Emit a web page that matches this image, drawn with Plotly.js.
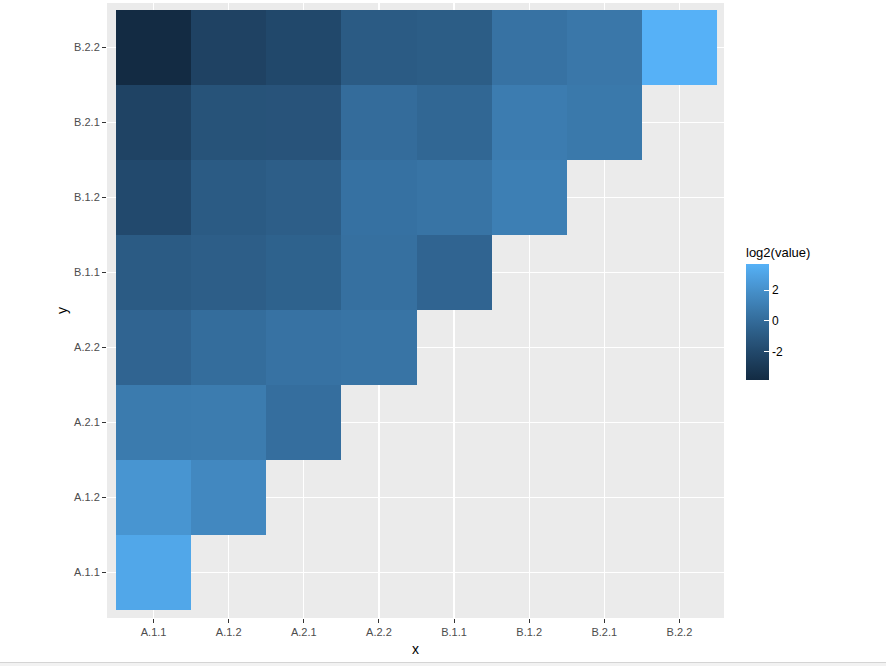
<!DOCTYPE html>
<html>
<head>
<meta charset="utf-8">
<script src="https://cdn.plot.ly/plotly-3.0.1.min.js"></script>
<style>html,body{margin:0;padding:0;background:#fff;}#chart{width:886px;height:666px;}</style>
</head>
<body>
<div id="chart"></div>
<script>
// Categories
var xLabels = ["A.1.1","A.1.2","A.2.1","A.2.2","B.1.1","B.1.2","B.2.1","B.2.2"];
var yLabels = ["A.1.1","A.1.2","A.2.1","A.2.2","B.1.1","B.1.2","B.2.1","B.2.2"];
// log2(value) per row (y), columns follow xLabels; null = no cell
var rowA11 = [3.19, null, null, null, null, null, null, null];
var rowA12 = [2.23, 1.56, null, null, null, null, null, null];
var rowA21 = [0.84, 0.88, 0.17, null, null, null, null, null];
var rowA22 = [-0.38, 0.09, 0.37, 0.49, null, null, null, null];
var rowB11 = [-0.91, -0.73, -0.52, 0.25, -0.38, null, null, null];
var rowB12 = [-1.93, -0.91, -0.73, 0.33, 0.49, 1.08, null, null];
var rowB21 = [-2.33, -1.40, -1.36, 0.05, -0.25, 0.92, 0.72, null];
var rowB22 = [-3.84, -2.38, -2.02, -0.91, -0.82, 0.37, 0.64, 3.70];
var colorbarTicks = [-2, 0, 2];
var colorbarTickText = ["-2", "0", "2"];

var z = [rowA11, rowA12, rowA21, rowA22, rowB11, rowB12, rowB21, rowB22];

// ggplot2 default gradient (#132B43 -> #56B1F7) interpolated in Lab
function hexToRgb(h){h=h.replace('#','');return [parseInt(h.substr(0,2),16),parseInt(h.substr(2,2),16),parseInt(h.substr(4,2),16)];}
function toLin(c){c/=255;return c<=0.04045?c/12.92:Math.pow((c+0.055)/1.055,2.4);}
function fromLin(c){var v=c<=0.0031308?12.92*c:1.055*Math.pow(c,1/2.4)-0.055;return Math.max(0,Math.min(255,Math.round(v*255)));}
var Xn=0.95047,Yn=1,Zn=1.08883;
function f(t){return t>0.008856?Math.cbrt(t):7.787*t+16/116;}
function fi(t){return t>0.206893?t*t*t:(t-16/116)/7.787;}
function rgb2lab(rgb){var r=toLin(rgb[0]),g=toLin(rgb[1]),b=toLin(rgb[2]);
 var X=r*0.4124+g*0.3576+b*0.1805,Y=r*0.2126+g*0.7152+b*0.0722,Z=r*0.0193+g*0.1192+b*0.9505;
 var fx=f(X/Xn),fy=f(Y/Yn),fz=f(Z/Zn);return [116*fy-16,500*(fx-fy),200*(fy-fz)];}
function lab2rgb(lab){var fy=(lab[0]+16)/116,fx=fy+lab[1]/500,fz=fy-lab[2]/200;
 var X=Xn*fi(fx),Y=Yn*fi(fy),Z=Zn*fi(fz);
 var r=X*3.2406+Y*-1.5372+Z*-0.4986,g=X*-0.9689+Y*1.8758+Z*0.0415,b=X*0.0557+Y*-0.2040+Z*1.0570;
 return 'rgb('+fromLin(r)+','+fromLin(g)+','+fromLin(b)+')';}
var lo=rgb2lab(hexToRgb('#132B43')),hi=rgb2lab(hexToRgb('#56B1F7'));
var cscale=[];
for(var i=0;i<=20;i++){var t=i/20;cscale.push([t,lab2rgb([lo[0]+(hi[0]-lo[0])*t,lo[1]+(hi[1]-lo[1])*t,lo[2]+(hi[2]-lo[2])*t])]);}

var plotTop=3, plotBottom=618, plotLeft=107, plotRight=724;
var pw=plotRight-plotLeft, ph=plotBottom-plotTop;

var trace = {
  type:'heatmap',
  x:xLabels, y:yLabels, z:z,
  colorscale:cscale,
  zmin:-3.84, zmax:3.70,
  xgap:0, ygap:0,
  hoverongaps:false,
  colorbar:{
    title:{text:'log2(value)', side:'top', font:{family:'Liberation Sans, Arial, sans-serif', size:13, color:'#000'}},
    thickness:23, thicknessmode:'pixels',
    len:136, lenmode:'pixels',
    x:(746-plotLeft)/pw, xanchor:'left', xpad:0,
    y:(plotBottom-380)/ph, yanchor:'bottom', ypad:0,
    outlinewidth:0,
    tickvals:colorbarTicks, ticktext:colorbarTickText,
    ticks:'inside', ticklen:5, tickcolor:'#ffffff', tickwidth:1,
    tickfont:{family:'Liberation Sans, Arial, sans-serif', size:12, color:'#000'}
  }
};

var layout = {
  width:886, height:666,
  margin:{l:plotLeft, r:886-plotRight, t:plotTop, b:666-plotBottom, pad:0},
  paper_bgcolor:'#ffffff',
  plot_bgcolor:'#EBEBEB',
  font:{family:'Liberation Sans, Arial, sans-serif'},
  xaxis:{
    type:'category', categoryorder:'array', categoryarray:xLabels,
    range:[-0.5-9/75, 7.5+7/75],
    showgrid:true, gridcolor:'#ffffff', gridwidth:1.2,
    zeroline:false, showline:false,
    ticks:'outside', ticklen:4, tickcolor:'#333333', tickwidth:1,
    tickfont:{size:11, color:'#4D4D4D'},
    title:{text:'x', font:{size:14, color:'#000'}, standoff:6}
  },
  yaxis:{
    type:'category', categoryorder:'array', categoryarray:yLabels,
    range:[-0.5-8/75, 7.5+7/75],
    showgrid:true, gridcolor:'#ffffff', gridwidth:1.2,
    zeroline:false, showline:false,
    ticks:'outside', ticklen:4, tickcolor:'#333333', tickwidth:1,
    tickfont:{size:11, color:'#4D4D4D'},
    title:{text:'y', font:{size:14, color:'#000'}, standoff:3}
  },
  shapes:[
    {type:'rect', xref:'paper', yref:'paper',
     x0:-plotLeft/pw, x1:(886-plotLeft)/pw,
     y0:(plotBottom-666)/ph, y1:(plotBottom-662.5)/ph,
     fillcolor:'#F2F2F2', line:{width:0}, layer:'above'},
    {type:'line', xref:'paper', yref:'paper',
     x0:-plotLeft/pw, x1:(886-plotLeft)/pw,
     y0:(plotBottom-662.5)/ph, y1:(plotBottom-662.5)/ph,
     line:{color:'#D4D4D4', width:1}, layer:'above'}
  ]
};

Plotly.newPlot('chart',[trace],layout,{displayModeBar:false, staticPlot:true});
</script>
</body>
</html>
